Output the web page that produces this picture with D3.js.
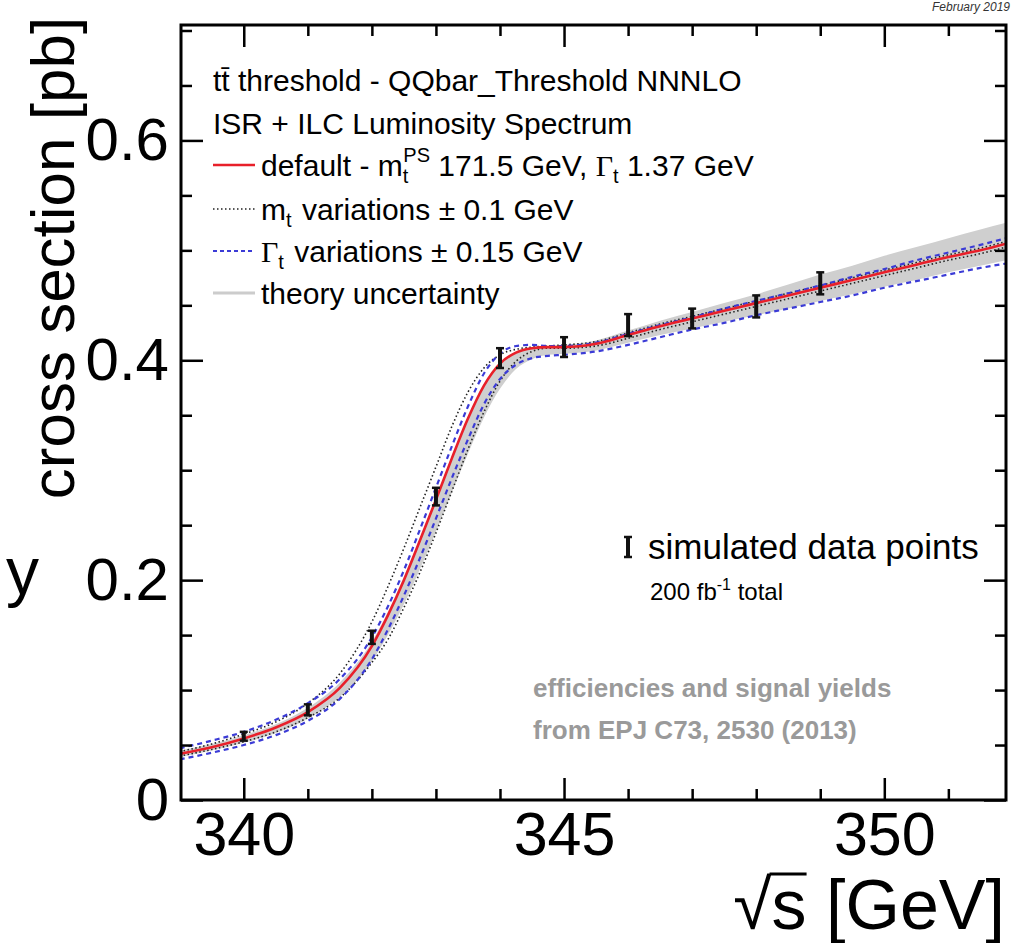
<!DOCTYPE html>
<html>
<head>
<meta charset="utf-8">
<script src="https://cdn.jsdelivr.net/npm/d3@7"></script>
<style>
  body { margin: 0; background: #fff; }
  svg text { font-family: "Liberation Sans", Arial, Helvetica, sans-serif; }
</style>
</head>
<body>
<div id="chart"></div>
<script>
"use strict";

/* centre-of-mass energies of the curve samples [GeV] */
const sqrtS = [339, 339.5, 340, 340.5, 341, 341.5, 342, 342.25, 342.5, 342.75, 343, 343.25,
  343.5, 343.75, 344, 344.25, 344.5, 344.75, 345, 345.5, 346, 346.5, 347, 347.5, 348, 348.5,
  349, 349.5, 350, 350.5, 351, 351.5, 351.9];

/* default prediction [pb] */
const xsDefault = [0.042, 0.048, 0.056, 0.066, 0.080, 0.102, 0.140, 0.168, 0.200, 0.236, 0.273, 0.311,
  0.347, 0.377, 0.397, 0.407, 0.411, 0.412, 0.412, 0.415, 0.423, 0.431, 0.438, 0.445, 0.452, 0.459,
  0.466, 0.473, 0.480, 0.487, 0.494, 0.500, 0.506];

/* m_t variations */
const xsMtUp = [0.044, 0.051, 0.060, 0.071, 0.088, 0.115, 0.162, 0.194, 0.229, 0.266, 0.303, 0.340,
  0.371, 0.393, 0.405, 0.410, 0.412, 0.413, 0.414, 0.417, 0.425, 0.433, 0.440, 0.447, 0.454, 0.461,
  0.468, 0.475, 0.482, 0.489, 0.496, 0.502, 0.508];
const xsMtDown = [0.040, 0.046, 0.053, 0.062, 0.075, 0.093, 0.125, 0.146, 0.175, 0.207, 0.243, 0.281,
  0.319, 0.353, 0.381, 0.399, 0.408, 0.411, 0.411, 0.413, 0.420, 0.428, 0.435, 0.442, 0.449, 0.456,
  0.463, 0.470, 0.477, 0.484, 0.491, 0.497, 0.503];

/* Gamma_t variations */
const xsGammaA = [0.047, 0.054, 0.062, 0.073, 0.088, 0.110, 0.148, 0.176, 0.209, 0.246, 0.284, 0.322,
  0.358, 0.388, 0.406, 0.413, 0.414, 0.413, 0.413, 0.416, 0.424, 0.432, 0.439, 0.447, 0.454, 0.461,
  0.468, 0.476, 0.483, 0.491, 0.498, 0.505, 0.511];
const xsGammaB = [0.037, 0.043, 0.050, 0.059, 0.072, 0.092, 0.128, 0.155, 0.186, 0.220, 0.256, 0.293,
  0.328, 0.360, 0.383, 0.396, 0.402, 0.404, 0.405, 0.408, 0.414, 0.421, 0.428, 0.434, 0.441, 0.447,
  0.453, 0.459, 0.466, 0.472, 0.478, 0.484, 0.488];

/* theory uncertainty band */
const bandLow = [0.039, 0.045, 0.052, 0.061, 0.074, 0.094, 0.126, 0.150, 0.178, 0.210, 0.244, 0.280,
  0.315, 0.348, 0.374, 0.392, 0.401, 0.405, 0.406, 0.409, 0.416, 0.423, 0.429, 0.435, 0.441, 0.447,
  0.454, 0.460, 0.467, 0.473, 0.480, 0.486, 0.491];
const bandHigh = [0.045, 0.051, 0.059, 0.069, 0.084, 0.107, 0.144, 0.171, 0.203, 0.238, 0.275, 0.312,
  0.347, 0.377, 0.397, 0.407, 0.412, 0.413, 0.414, 0.418, 0.427, 0.436, 0.444, 0.452, 0.460, 0.469,
  0.478, 0.486, 0.495, 0.503, 0.511, 0.519, 0.525];

/* simulated data points */
const dataE = [340, 341, 342, 343, 344, 345, 346, 347, 348, 349];
const dataXs = [0.058, 0.082, 0.148, 0.276, 0.402, 0.412, 0.432, 0.438, 0.449, 0.470];
const dataErr = [0.004, 0.005, 0.006, 0.008, 0.009, 0.009, 0.010, 0.009, 0.010, 0.010];

/* axes */
const xDomain = [339.02, 351.9];
const yDomain = [0, 0.705];
const xMajorTicks = [340, 345, 350];
const xMinorTicks = [341, 342, 343, 344, 346, 347, 348, 349, 351];
const yMajorTicks = [0, 0.2, 0.4, 0.6];
const yMinorTicks = [0.05, 0.1, 0.15, 0.25, 0.3, 0.35, 0.45, 0.5, 0.55, 0.65, 0.7];

const W = 1014, H = 943;
const plot = { left: 181, right: 1006, top: 25, bottom: 800 };

const svg = d3.select("#chart").append("svg")
  .attr("width", W)
  .attr("height", H)
  .style("display", "block");

const x = d3.scaleLinear().domain(xDomain).range([plot.left, plot.right]);
const y = d3.scaleLinear().domain(yDomain).range([plot.bottom, plot.top]);

const zip = (a) => sqrtS.map((e, i) => [e, a[i]]);

svg.append("clipPath").attr("id", "clip")
  .append("rect")
  .attr("x", plot.left).attr("y", plot.top)
  .attr("width", plot.right - plot.left).attr("height", plot.bottom - plot.top);

const curves = svg.append("g").attr("clip-path", "url(#clip)");

/* theory band */
const area = d3.area()
  .x((d, i) => x(sqrtS[i]))
  .y0((d, i) => y(bandLow[i]))
  .y1((d, i) => y(bandHigh[i]))
  .curve(d3.curveMonotoneX);
curves.append("path")
  .datum(sqrtS)
  .attr("d", area)
  .attr("fill", "#cfcfcf");

const line = d3.line()
  .x(d => x(d[0]))
  .y(d => y(d[1]))
  .curve(d3.curveMonotoneX);

/* mt variations - black dotted */
[xsMtUp, xsMtDown].forEach(s => {
  curves.append("path").datum(zip(s))
    .attr("d", line).attr("fill", "none")
    .attr("stroke", "#222").attr("stroke-width", 1.6)
    .attr("stroke-dasharray", "1.5,2.5");
});

/* Gamma variations - blue dashed */
[xsGammaA, xsGammaB].forEach(s => {
  curves.append("path").datum(zip(s))
    .attr("d", line).attr("fill", "none")
    .attr("stroke", "#3b3bd6").attr("stroke-width", 2.2)
    .attr("stroke-dasharray", "5,4");
});

/* default - red */
curves.append("path").datum(zip(xsDefault))
  .attr("d", line).attr("fill", "none")
  .attr("stroke", "#e8202a").attr("stroke-width", 2.6);

/* simulated data points with errors */
const pts = svg.append("g").selectAll("g")
  .data(dataE.map((e, i) => ({ e: e, v: dataXs[i], err: dataErr[i] })))
  .enter().append("g");
pts.append("line")
  .attr("x1", d => x(d.e)).attr("x2", d => x(d.e))
  .attr("y1", d => y(d.v - d.err)).attr("y2", d => y(d.v + d.err))
  .attr("stroke", "#111").attr("stroke-width", 4);
[-1, 1].forEach(sgn => {
  pts.append("line")
    .attr("x1", d => x(d.e) - 4).attr("x2", d => x(d.e) + 4)
    .attr("y1", d => y(d.v + sgn * d.err)).attr("y2", d => y(d.v + sgn * d.err))
    .attr("stroke", "#111").attr("stroke-width", 2.5);
});

/* axes: major + minor ticks on all four sides, pointing inward */
function drawAxis(axis, transform, labels) {
  const g = svg.append("g").attr("transform", transform).call(axis);
  g.select(".domain").remove();
  g.selectAll(".tick line").attr("stroke", "#000").attr("stroke-width", 2.5);
  if (!labels) g.selectAll(".tick text").remove();
  return g;
}

const xb = drawAxis(d3.axisBottom(x).tickValues(xMajorTicks).tickSize(-22).tickPadding(12)
  .tickFormat(d3.format("d")), `translate(0,${plot.bottom})`, true);
xb.selectAll(".tick text")
  .attr("font-size", 61).attr("fill", "#000").attr("dy", "0.71em")
  .style("font-family", "'Liberation Sans', Arial, sans-serif");
drawAxis(d3.axisBottom(x).tickValues(xMinorTicks).tickSize(-11), `translate(0,${plot.bottom})`, false);
drawAxis(d3.axisTop(x).tickValues(xMajorTicks).tickSize(-22), `translate(0,${plot.top})`, false);
drawAxis(d3.axisTop(x).tickValues(xMinorTicks).tickSize(-11), `translate(0,${plot.top})`, false);

const yl = drawAxis(d3.axisLeft(y).tickValues(yMajorTicks).tickSize(-22).tickPadding(12)
  .tickFormat(d => d === 0 ? "0" : d3.format(".1f")(d)), `translate(${plot.left},0)`, true);
yl.selectAll(".tick text")
  .attr("font-size", 60).attr("fill", "#000")
  .style("font-family", "'Liberation Sans', Arial, sans-serif");
drawAxis(d3.axisLeft(y).tickValues(yMinorTicks).tickSize(-11), `translate(${plot.left},0)`, false);
drawAxis(d3.axisRight(y).tickValues(yMajorTicks).tickSize(-22), `translate(${plot.right},0)`, false);
drawAxis(d3.axisRight(y).tickValues(yMinorTicks).tickSize(-11), `translate(${plot.right},0)`, false);

/* frame */
svg.append("rect")
  .attr("x", plot.left).attr("y", plot.top)
  .attr("width", plot.right - plot.left).attr("height", plot.bottom - plot.top)
  .attr("fill", "none").attr("stroke", "#000").attr("stroke-width", 3);

/* axis titles */
svg.append("text")
  .attr("transform", "translate(74,258) rotate(-90)")
  .attr("text-anchor", "middle")
  .attr("font-size", 62)
  .text("cross section [pb]");

const xt = svg.append("text")
  .attr("x", 1005).attr("y", 929)
  .attr("text-anchor", "end")
  .attr("font-size", 70)
  .text("\u221As [GeV]");
/* bar of the square root over the "s" */
const xtNode = xt.node();
const rad = xtNode.getExtentOfChar(0), sChar = xtNode.getExtentOfChar(1);
svg.append("line")
  .attr("x1", rad.x + rad.width - 2).attr("x2", sChar.x + sChar.width)
  .attr("y1", rad.y + 8).attr("y2", rad.y + 8)
  .attr("stroke", "#000").attr("stroke-width", 3);

/* stray label at the very left */
svg.append("text").attr("x", 6).attr("y", 594).attr("font-size", 66).text("y");

/* date stamp */
svg.append("text")
  .attr("x", 1010).attr("y", 11)
  .attr("text-anchor", "end")
  .attr("font-size", 12).attr("font-style", "italic").attr("fill", "#333")
  .text("February 2019");

/* legend */
const legX = 213, legTextX = 261, fs = 30, sub = 20;
svg.append("text").attr("x", legX).attr("y", 91).attr("font-size", fs)
  .text("tt\u0304 threshold - QQbar_Threshold NNNLO");
svg.append("text").attr("x", legX).attr("y", 134).attr("font-size", fs)
  .text("ISR + ILC Luminosity Spectrum");

const legendRows = [
  { y: 165, stroke: "#e8202a", width: 2.6, dash: null },
  { y: 209, stroke: "#222", width: 1.6, dash: "1.5,2.5" },
  { y: 251, stroke: "#3b3bd6", width: 2.2, dash: "4,3" },
  { y: 293, stroke: "#cccccc", width: 3, dash: null }
];
legendRows.forEach(r => {
  svg.append("line")
    .attr("x1", legX).attr("x2", legX + 42)
    .attr("y1", r.y).attr("y2", r.y)
    .attr("stroke", r.stroke).attr("stroke-width", r.width)
    .attr("stroke-dasharray", r.dash);
});

const t3 = svg.append("text").attr("x", legTextX).attr("y", 176).attr("font-size", fs);
t3.append("tspan").text("default - m");
t3.append("tspan").attr("font-size", sub).attr("dy", 7).text("t");
t3.append("tspan").attr("font-size", sub).attr("dx", -5).attr("dy", -21).text("PS");
t3.append("tspan").attr("dy", 14).text(" 171.5 GeV, ");
t3.append("tspan").style("font-family", "'Liberation Serif', serif").text("\u0393");
t3.append("tspan").attr("font-size", sub).attr("dy", 7).text("t");
t3.append("tspan").attr("dy", -7).text(" 1.37 GeV");

const t4 = svg.append("text").attr("x", legTextX).attr("y", 220).attr("font-size", fs);
t4.append("tspan").text("m");
t4.append("tspan").attr("font-size", sub).attr("dy", 7).text("t");
t4.append("tspan").attr("dy", -7).attr("dx", 2).text(" variations \u00B1 0.1 GeV");

const t5 = svg.append("text").attr("x", legTextX).attr("y", 262).attr("font-size", fs);
t5.append("tspan").style("font-family", "'Liberation Serif', serif").text("\u0393");
t5.append("tspan").attr("font-size", sub).attr("dy", 7).text("t");
t5.append("tspan").attr("dy", -7).attr("dx", 2).text(" variations \u00B1 0.15 GeV");

svg.append("text").attr("x", legTextX).attr("y", 304).attr("font-size", fs)
  .text("theory uncertainty");

/* data point legend */
const symX = 628, symY = 547;
svg.append("line").attr("x1", symX).attr("x2", symX).attr("y1", symY - 10).attr("y2", symY + 10)
  .attr("stroke", "#111").attr("stroke-width", 4);
[-10, 10].forEach(o => svg.append("line")
  .attr("x1", symX - 4).attr("x2", symX + 4).attr("y1", symY + o).attr("y2", symY + o)
  .attr("stroke", "#111").attr("stroke-width", 2.5));
svg.append("text").attr("x", 648).attr("y", 559).attr("font-size", 35)
  .text("simulated data points");
const lum = svg.append("text").attr("x", 650).attr("y", 600).attr("font-size", 24);
lum.append("tspan").text("200 fb");
lum.append("tspan").attr("font-size", 16).attr("dy", -10).text("-1");
lum.append("tspan").attr("dy", 10).text(" total");

/* efficiency note */
svg.append("text").attr("x", 533).attr("y", 697).attr("font-size", 26)
  .attr("font-weight", "bold").attr("fill", "#9a9a9a")
  .text("efficiencies and signal yields");
svg.append("text").attr("x", 533).attr("y", 739).attr("font-size", 26)
  .attr("font-weight", "bold").attr("fill", "#9a9a9a")
  .text("from EPJ C73, 2530 (2013)");
</script>
</body>
</html>
